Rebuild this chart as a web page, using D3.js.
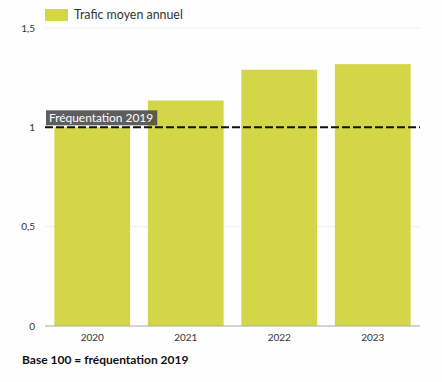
<!DOCTYPE html>
<html><head><meta charset="utf-8">
<script src="https://cdn.jsdelivr.net/npm/d3@7"></script>
<style>body{margin:0;background:#fff;}svg{display:block;font-family:"Lato","Open Sans",sans-serif;}</style>
</head><body>
<script>
const years = ["2020","2021","2022","2023"];
const values = [1.0, 1.135, 1.29, 1.318];
const yTicks = [0, 0.5, 1, 1.5];
const tickLabels = ["0","0,5","1","1,5"];
const seriesName = "Trafic moyen annuel";
const refValue = 1;
const refLabel = "Fréquentation 2019";
const footnote = "Base 100 = fréquentation 2019";

const W = 442, H = 382;
const m = {left:45, right:22, top:28, bottom:56};
const svg = d3.select("body").append("svg").attr("width",W).attr("height",H);
svg.append("rect").attr("width",W).attr("height",H).attr("fill","#fefefe");

const x = d3.scaleBand().domain(years).range([m.left, W-m.right]).paddingInner(0.19).paddingOuter(0.1);
const y = d3.scaleLinear().domain([0,1.5]).range([H-m.bottom, m.top]);

// gridlines
svg.append("g").selectAll("line").data(yTicks.slice(1)).join("line")
  .attr("x1",m.left).attr("x2",W-m.right)
  .attr("y1",d=>y(d)).attr("y2",d=>y(d))
  .attr("stroke","#eeeeee").attr("stroke-width",1);

// y labels
svg.append("g").selectAll("text").data(yTicks).join("text")
  .attr("x",35).attr("y",d=>y(d)).attr("dy","0.35em")
  .attr("text-anchor","end").attr("font-size",10).attr("fill","#333")
  .text((d,i)=>tickLabels[i]);

// bars
svg.append("g").selectAll("rect").data(values).join("rect")
  .attr("x",(d,i)=>x(years[i])).attr("width",x.bandwidth())
  .attr("y",d=>y(d)).attr("height",d=>y(0)-y(d))
  .attr("fill","#d2d647");

// baseline
svg.append("line").attr("x1",m.left).attr("x2",W-m.right)
  .attr("y1",y(0)).attr("y2",y(0)).attr("stroke","#a8a8a8").attr("stroke-width",1);

// x labels
const xa = svg.append("g").attr("transform",`translate(0,${y(0)})`)
  .call(d3.axisBottom(x).tickSize(0).tickPadding(8));
xa.select(".domain").remove();
xa.selectAll("text").attr("font-size",10).attr("fill","#333").attr("font-family","Lato, 'Open Sans', sans-serif");

// reference line
svg.append("line").attr("x1",m.left).attr("x2",W-m.right)
  .attr("y1",y(refValue)).attr("y2",y(refValue))
  .attr("stroke","#111").attr("stroke-width",2).attr("stroke-dasharray","8,3");

// ref label
const lg = svg.append("g");
const lt = lg.append("text").attr("x",m.left+4).attr("y",y(refValue)-9)
  .attr("dy","0.35em").attr("font-size",11.9).attr("fill","#fff").text(refLabel);
const bb = lt.node().getBBox();
lg.insert("rect","text").attr("x",m.left+1).attr("y",y(refValue)-17)
  .attr("width",bb.width+7).attr("height",15).attr("fill","#4d4d4d").attr("opacity",0.9);

// legend
svg.append("rect").attr("x",45).attr("y",9).attr("width",23).attr("height",12).attr("fill","#d2d647");
svg.append("text").attr("x",74).attr("y",15).attr("dy","0.35em")
  .attr("font-size",12.4).attr("fill","#333").text(seriesName);

// footnote
svg.append("text").attr("x",22).attr("y",360).attr("dy","0.35em")
  .attr("font-size",12).attr("font-weight","bold").attr("fill","#111").text(footnote);
</script>
</body></html>
